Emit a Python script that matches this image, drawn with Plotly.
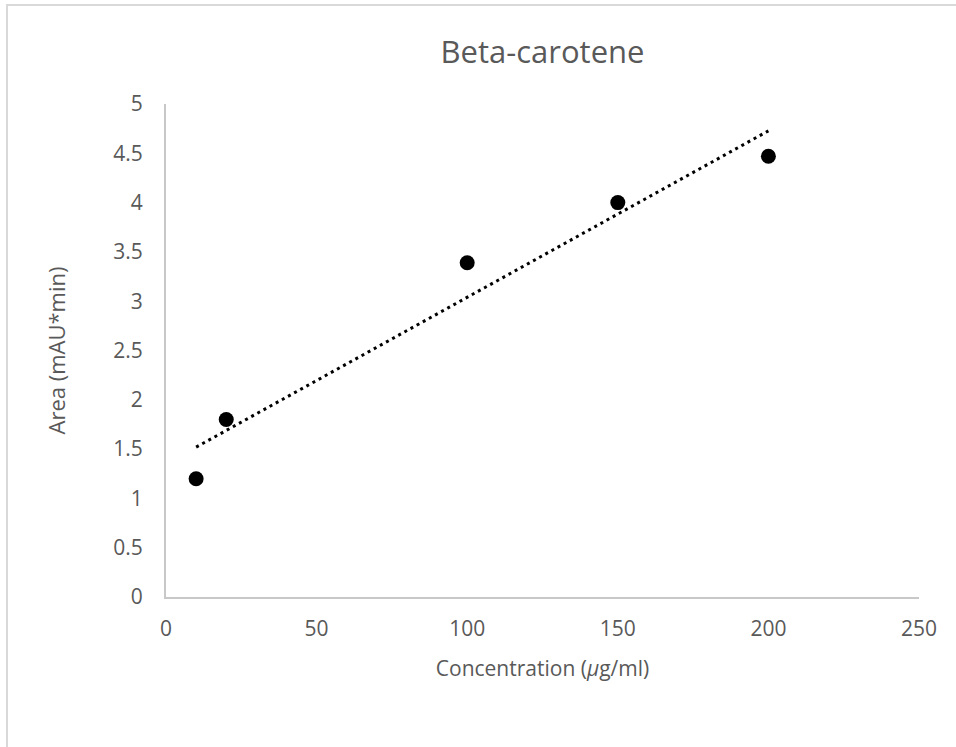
import numpy as np
import plotly.graph_objects as go

concentration = [10, 20, 100, 150, 200]
area = [1.2, 1.8, 3.39, 4.0, 4.47]
x_ticks = [0, 50, 100, 150, 200, 250]
y_ticks = [0, 0.5, 1, 1.5, 2, 2.5, 3, 3.5, 4, 4.5, 5]
y_tick_labels = ["0", "0.5", "1", "1.5", "2", "2.5", "3", "3.5", "4", "4.5", "5"]

slope, intercept = np.polyfit(concentration, area, 1)
trend_x = [min(concentration), max(concentration)]
trend_y = [slope * v + intercept for v in trend_x]

FONT = "Open Sans"
GREY = "#595959"

fig = go.Figure()
fig.add_trace(go.Scatter(x=trend_x, y=trend_y, mode="lines",
                         line=dict(color="black", width=3, dash="3px,4px"),
                         showlegend=False, hoverinfo="skip"))
fig.add_trace(go.Scatter(x=concentration, y=area, mode="markers",
                         marker=dict(color="black", size=15),
                         showlegend=False))

L, R, T, B = 166, 37, 104, 150
W, H = 956, 747
pw, ph = W - L - R, H - T - B

def px_x(p):
    return (p - L) / pw

def px_y(p):
    return (H - B - p) / ph

fig.add_shape(type="rect", xref="paper", yref="paper",
              x0=px_x(7), x1=px_x(W + 10), y0=px_y(H + 10), y1=px_y(5),
              line=dict(color="#d9d9d9", width=2), fillcolor="rgba(0,0,0,0)",
              layer="below")

fig.update_layout(
    width=W, height=H,
    margin=dict(l=L, r=R, t=T, b=B),
    paper_bgcolor="white", plot_bgcolor="white",
    title=dict(text="Beta-carotene", x=0.5, xref="paper", xanchor="center",
               y=1 - 52 / H, yanchor="middle",
               font=dict(family=FONT, size=31, color=GREY)),
    font=dict(family=FONT, color=GREY),
    xaxis=dict(range=[0, 250], tickvals=x_ticks, ticktext=[str(v) for v in x_ticks],
               showgrid=False, zeroline=False, showline=True,
               linecolor="#c8c8c8", linewidth=2, ticks="",
               ticklabelstandoff=12,
               tickfont=dict(family=FONT, size=21, color=GREY),
               title=dict(text="Concentration (<i>μ</i>g/ml)", standoff=20,
                          font=dict(family=FONT, size=21, color=GREY))),
    yaxis=dict(range=[0, 5], tickvals=y_ticks, ticktext=y_tick_labels,
               showgrid=False, zeroline=False, showline=True,
               linecolor="#c8c8c8", linewidth=2, ticks="",
               ticklabelstandoff=17,
               tickfont=dict(family=FONT, size=21, color=GREY),
               title=dict(text="Area (mAU*min)", standoff=42,
                          font=dict(family=FONT, size=22, color=GREY))),
)

fig.write_html("out.html", config={"displayModeBar": False},
               post_script="document.body.style.margin='0';")
